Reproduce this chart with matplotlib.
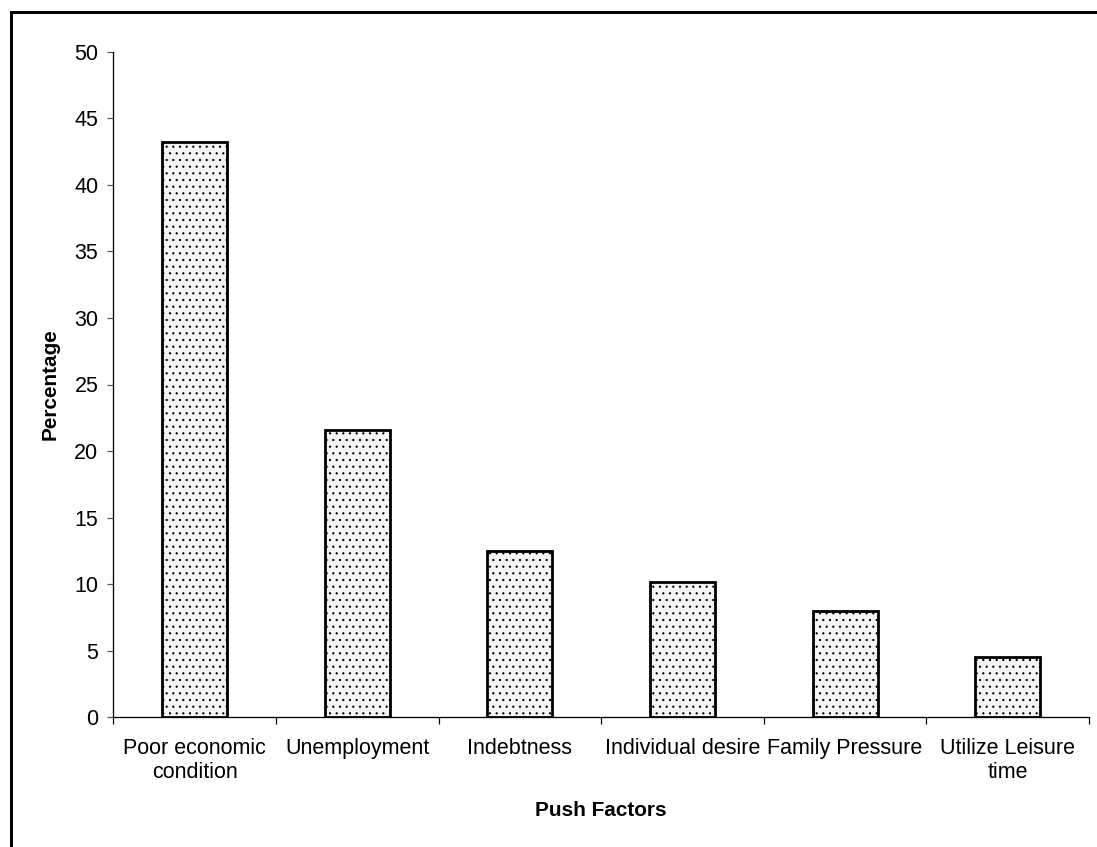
import matplotlib
matplotlib.use("Agg")
import matplotlib.pyplot as plt
from matplotlib.lines import Line2D
import numpy as np

categories = ["Poor economic\ncondition", "Unemployment", "Indebtness",
              "Individual desire", "Family Pressure", "Utilize Leisure\ntime"]
values = [43.2, 21.6, 12.5, 10.2, 8.0, 4.5]
y_ticks = [0, 5, 10, 15, 20, 25, 30, 35, 40, 45, 50]

DPI = 80


def px(v):
    """convert pixels to points at the chosen dpi"""
    return v * 72.0 / DPI


plt.rcParams['font.family'] = ['Liberation Sans', 'DejaVu Sans']
plt.rcParams['hatch.color'] = '#2a2a2a'
plt.rcParams['hatch.linewidth'] = px(0.9)

W, H = 1097, 847
fig = plt.figure(figsize=(W / DPI, H / DPI), dpi=DPI)
ax = fig.add_axes([113.3 / W, 1 - 717.3 / H, (1089 - 113.3) / W, (717.3 - 51.7) / H])

x = np.arange(len(categories))
ax.bar(x, values, width=0.40, color='#f5f5f5', edgecolor='black',
       linewidth=px(2.8), hatch='..', zorder=3)

ax.set_xlim(-0.5, len(categories) - 0.5)
ax.set_ylim(0, 50)
ax.set_yticks(y_ticks)
ax.set_yticklabels([str(v) for v in y_ticks], fontsize=px(21.5))
ax.set_xticks(x)
ax.set_xticklabels(categories, fontsize=px(21.5), linespacing=1.2)
ax.tick_params(axis='x', length=0, pad=px(21))
ax.set_xticks(np.arange(len(categories) + 1) - 0.5, minor=True)
ax.tick_params(axis='x', which='minor', length=px(7), width=px(1.2), color='black')
ax.tick_params(axis='y', length=px(6), width=px(1.2), color='#555555', pad=px(9))

for s in ['top', 'right']:
    ax.spines[s].set_visible(False)
for s in ['left', 'bottom']:
    ax.spines[s].set_linewidth(px(1.3))
    ax.spines[s].set_color('black')

ax.set_ylabel("Percentage", fontsize=px(20.8), fontweight='bold')
ax.set_xlabel("Push Factors", fontsize=px(20.8), fontweight='bold')
ax.yaxis.set_label_coords((50 - 113.3) / (1089 - 113.3), 0.5)
ax.xaxis.set_label_coords(0.5, -(811 - 717.3) / (717.3 - 51.7))
ax.xaxis.label.set_va('center')
ax.yaxis.label.set_va('center')

# outer frame (left and top edges)
fig.add_artist(Line2D([11 / W, 11 / W], [0, 1 - 12 / H], transform=fig.transFigure,
                      color='black', linewidth=px(3), solid_capstyle='projecting'))
fig.add_artist(Line2D([11 / W, 1], [1 - 12 / H, 1 - 12 / H], transform=fig.transFigure,
                      color='black', linewidth=px(3), solid_capstyle='projecting'))

fig.savefig("out.png", dpi=DPI, facecolor='white')
